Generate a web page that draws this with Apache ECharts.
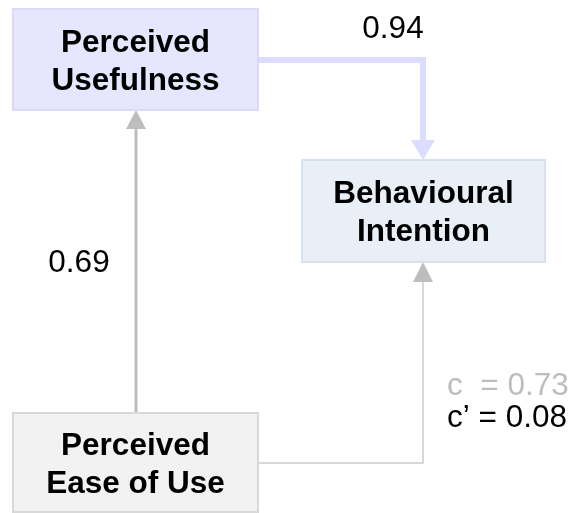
<!DOCTYPE html>
<html>
<head>
<meta charset="utf-8">
<script src="https://cdn.jsdelivr.net/npm/echarts@6/dist/echarts.min.js"></script>
<style>html,body{margin:0;padding:0;background:#fff}#c{width:571px;height:513px}</style>
</head>
<body>
<div id="c"></div>
<script>
// ---- data ----
const constructs = ['Perceived\nUsefulness', 'Behavioural\nIntention', 'Perceived\nEase of Use'];
const pathFrom = [0, 2, 2];
const pathTo = [1, 0, 1];
const pathCoefficients = [0.94, 0.69, 0.08];
const pathPrefixes = ['', '', 'c\u2019 = '];
const totalEffectLabel = ['c  = '];
const totalEffectValue = [0.73];

// ---- layout (pixel space mapped through hidden axes) ----
const boxes = [[13, 9, 258, 110], [302, 160, 545, 262], [13, 413, 258, 512]];
const boxFill = ['#E6E6FF', '#E9EFF7', '#F2F2F2'];
const boxStroke = ['#DADAF8', '#D8E2EE', '#D8D8D8'];
const routes = [
  [[258, 60], [423, 60], [423, 141]],
  [[136, 413], [136, 128]],
  [[258, 463], [423, 463], [423, 281]]
];
const heads = [
  [[411, 140], [435, 140], [423, 160]],
  [[126, 129], [146, 129], [136, 110]],
  [[413, 282], [433, 282], [423, 262]]
];
const routeColor = ['#DCDCFF', '#BDBDBD', '#CCCCCC'];
const headColor = ['#DCDCFF', '#BDBDBD', '#BDBDBD'];
const routeWidth = [6, 3, 1.5];
const labelPos = [[393, 29], [79, 263], [447, 418]];
const labelAlign = ['center', 'center', 'left'];
const totalPos = [[447, 386]];

const FONT = '"Liberation Sans", Arial, sans-serif';
const FS = 31.5;
const chart = echarts.init(document.getElementById('c'));

function boxItem(params, api) {
  const i = params.dataIndex;
  const b = boxes[i];
  const p0 = api.coord([b[0], b[1]]);
  const p1 = api.coord([b[2], b[3]]);
  return {
    type: 'group',
    children: [
      { type: 'rect', shape: { x: p0[0], y: p0[1], width: p1[0] - p0[0], height: p1[1] - p0[1] },
        style: { fill: boxFill[i], stroke: boxStroke[i], lineWidth: 2 } },
      { type: 'text', style: { text: constructs[i], x: (p0[0] + p1[0]) / 2, y: (p0[1] + p1[1]) / 2 + 2.5,
        align: 'center', verticalAlign: 'middle', fontFamily: FONT, fontWeight: 'bold',
        fontSize: FS, lineHeight: 38, fill: '#000' } }
    ]
  };
}

function pathItem(params, api) {
  const i = params.dataIndex;
  const pts = routes[i].map(p => api.coord(p));
  const hd = heads[i].map(p => api.coord(p));
  const lp = api.coord(labelPos[i]);
  const children = [
    { type: 'polyline', shape: { points: pts }, style: { stroke: routeColor[i], lineWidth: routeWidth[i], fill: null } },
    { type: 'polygon', shape: { points: hd }, style: { fill: headColor[i] } },
    { type: 'text', style: { text: pathPrefixes[i] + pathCoefficients[i].toFixed(2), x: lp[0], y: lp[1],
      align: labelAlign[i], verticalAlign: 'middle', fontFamily: FONT, fontSize: FS, fill: '#000' } }
  ];
  if (i === 2) {
    const tp = api.coord(totalPos[0]);
    children.push({ type: 'text', style: { text: totalEffectLabel[0] + totalEffectValue[0].toFixed(2), x: tp[0], y: tp[1],
      align: 'left', verticalAlign: 'middle', fontFamily: FONT, fontSize: FS, fill: '#BDBDBD' } });
  }
  return { type: 'group', children };
}

chart.setOption({
  animation: false,
  grid: { left: 0, right: 0, top: 0, bottom: 0 },
  xAxis: { type: 'value', min: 0, max: 571, show: false },
  yAxis: { type: 'value', min: 0, max: 513, inverse: true, show: false },
  series: [
    { type: 'custom', renderItem: pathItem, z: 1, silent: true,
      data: pathCoefficients.map((v, i) => [pathFrom[i], pathTo[i]]) },
    { type: 'custom', renderItem: boxItem, z: 2, silent: true,
      data: constructs.map((n, i) => [i, i]) }
  ]
});
</script>
</body>
</html>
